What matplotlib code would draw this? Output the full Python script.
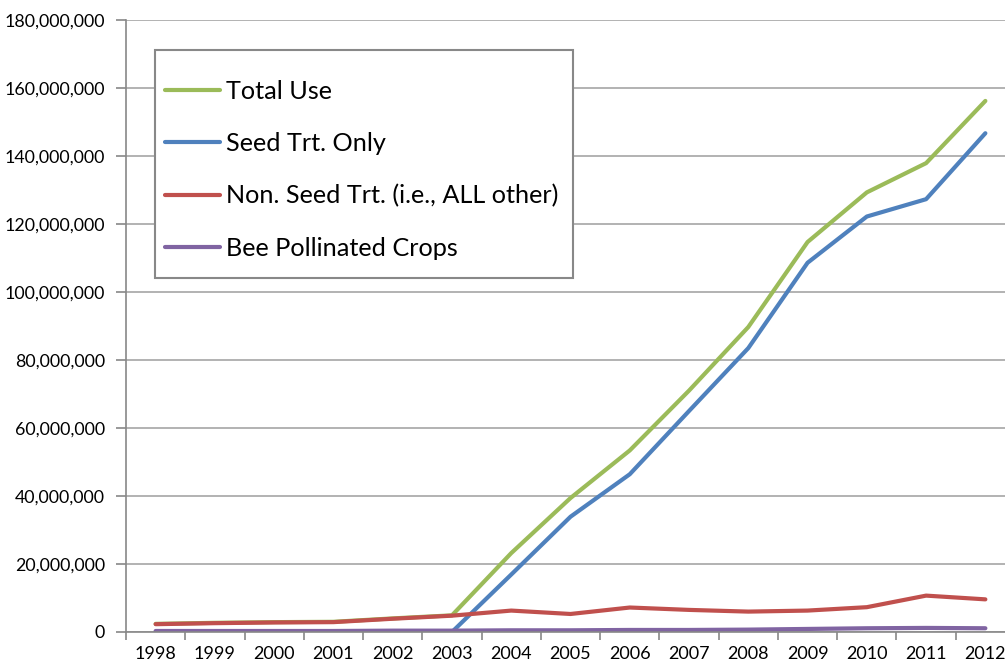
import matplotlib.pyplot as plt
import numpy as np
from matplotlib.ticker import FuncFormatter, FixedLocator
from matplotlib.patches import Rectangle

years = ['1998', '1999', '2000', '2001', '2002', '2003', '2004', '2005',
         '2006', '2007', '2008', '2009', '2010', '2011', '2012']

# values in pounds
total_use = [2.4e6, 2.7e6, 2.9e6, 3.0e6, 4.0e6, 4.9e6, 23.2e6, 39.4e6,
             53.4e6, 71.0e6, 89.7e6, 114.7e6, 129.3e6, 137.9e6, 156.2e6]
seed_trt = [0, 0, 0, 0, 0, 0, 16.9e6, 33.9e6,
            46.4e6, 65.0e6, 83.5e6, 108.6e6, 122.2e6, 127.3e6, 146.7e6]
non_seed = [2.3e6, 2.6e6, 2.8e6, 2.9e6, 3.9e6, 4.8e6, 6.3e6, 5.3e6,
            7.2e6, 6.5e6, 6.0e6, 6.3e6, 7.3e6, 10.7e6, 9.6e6]
bee_crops = [0.3e6, 0.3e6, 0.3e6, 0.3e6, 0.4e6, 0.4e6, 0.5e6, 0.5e6,
             0.6e6, 0.6e6, 0.7e6, 0.9e6, 1.1e6, 1.2e6, 1.1e6]

series = [
    ('Total Use', total_use, '#9BBB59'),
    ('Seed Trt. Only', seed_trt, '#4F81BD'),
    ('Non. Seed Trt. (i.e., ALL other)', non_seed, '#C0504D'),
    ('Bee Pollinated Crops', bee_crops, '#8064A2'),
]

plt.rcParams['font.family'] = ['Lato', 'DejaVu Sans']

W, H = 1005, 664
fig = plt.figure(figsize=(W / 100, H / 100), dpi=100)
ax = fig.add_axes([126 / W, 1 - 632 / H, 889 / W, 612 / H])

x = np.arange(len(years))
for name, vals, col in series:
    ax.plot(x, vals, color=col, lw=3, label=name, solid_capstyle='round')

ax.set_xlim(-0.5, len(years) - 0.5)
ax.set_ylim(0, 180e6)
ax.set_yticks(np.arange(0, 180e6 + 1, 20e6))
ax.yaxis.set_major_formatter(FuncFormatter(lambda v, p: f'{int(v):,}'))
ax.grid(axis='y', color='#A6A6A6', lw=1.2)
ax.set_axisbelow(True)

ax.set_xticks(x)
ax.set_xticklabels(years)
ax.xaxis.set_minor_locator(FixedLocator(np.arange(-0.5, len(years), 1)))
ax.tick_params(axis='x', which='major', length=0, pad=10, labelsize=13)
ax.tick_params(axis='x', which='minor', length=6, color='#888888', width=1.2)
ax.tick_params(axis='y', length=7, color='#888888', width=1.2, labelsize=12.8, pad=8)

for s in ['top', 'right']:
    ax.spines[s].set_visible(False)
for s in ['left', 'bottom']:
    ax.spines[s].set_color('#888888')
    ax.spines[s].set_linewidth(1.2)

# legend box
box = Rectangle((155 / W, 1 - 278 / H), 418 / W, 228 / H,
                transform=fig.transFigure, facecolor='white',
                edgecolor='#888888', lw=1.5, zorder=5, clip_on=False)
ax.add_patch(box)
leg = ax.legend(loc='upper left', bbox_to_anchor=(165 / W, 1 - 80 / H),
                bbox_transform=fig.transFigure, frameon=False,
                fontsize=18.2, handlelength=2.17, handletextpad=0.24,
                labelspacing=1.15, borderpad=0, borderaxespad=0)
leg.set_zorder(6)

fig.savefig('out.png', dpi=100)
